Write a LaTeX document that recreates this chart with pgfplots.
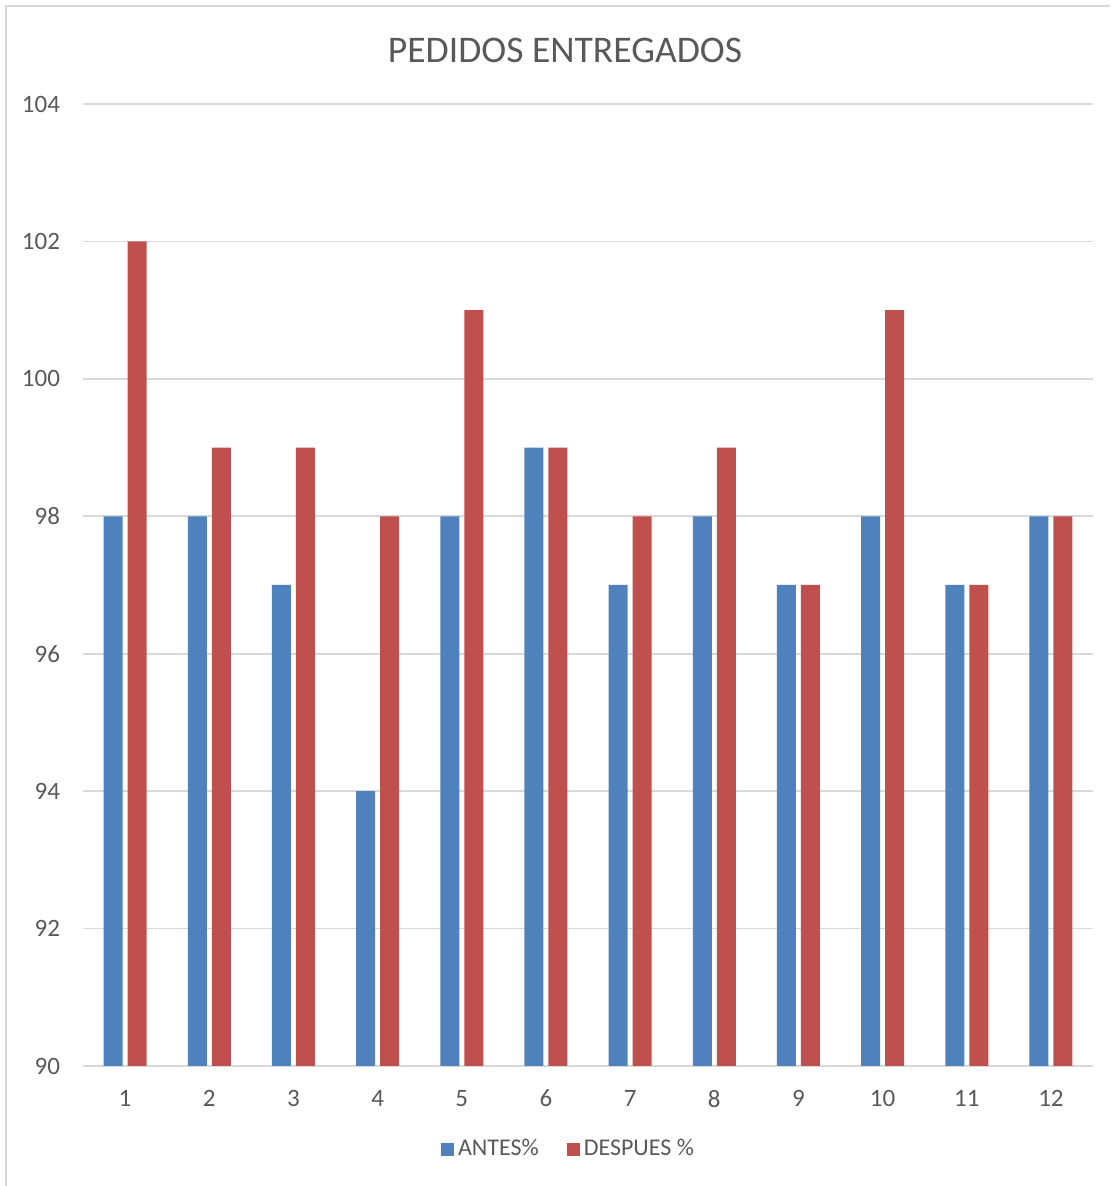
\documentclass[border=0pt]{standalone}
\usepackage{pgfplots}
\pgfplotsset{compat=1.18}
\usepackage{fontspec}
\setmainfont{Carlito}
\definecolor{antes}{HTML}{4F81BD}
\definecolor{despues}{HTML}{C0504D}
\definecolor{txtgray}{HTML}{595959}
\definecolor{gridgray}{HTML}{D9D9D9}
\begin{document}
\begin{tikzpicture}
% chart frame
\path[use as bounding box] (0,0) rectangle (555pt,593pt);
\draw[gridgray, line width=1pt] (3pt,0) -- (3pt,590pt) -- (555pt,590pt);
\node[txtgray, font=\fontsize{18.8}{22}\selectfont] at (282.5pt,568pt) {PEDIDOS ENTREGADOS};
\begin{axis}[
  at={(41.5pt,60pt)}, anchor=south west,
  scale only axis, width=505pt, height=481pt,
  ybar=2.5pt, bar width=9.5pt,
  xmin=0.5, xmax=12.5, ymin=90, ymax=104,
  xtick={1,...,12}, ytick={90,92,...,104},
  axis x line=bottom, axis y line=left,
  x axis line style={gridgray, line width=1pt, -},
  y axis line style={draw=none, -},
  ymajorgrids, grid style={gridgray, line width=0.8pt},
  major tick length=0pt,
  tick label style={txtgray, font=\fontsize{12.5}{14}\selectfont},
  /pgf/number format/assume math mode=true,
  yticklabel style={xshift=-8pt},
  xticklabel style={yshift=-8.5pt},
  legend style={at={(0.4817,-0.0865)}, anchor=center, draw=none,
    legend columns=2, font=\fontsize{12}{14}\selectfont, text=txtgray,
    /tikz/every even column/.style={column sep=12pt}},
  legend image code/.code={\fill[#1] (0pt,-3.25pt) rectangle (6.5pt,3.25pt);},
]
\addplot[fill=antes, draw=none] coordinates {
  (1,98) (2,98) (3,97) (4,94) (5,98) (6,99) (7,97) (8,98) (9,97) (10,98) (11,97) (12,98)};
\addplot[fill=despues, draw=none] coordinates {
  (1,102) (2,99) (3,99) (4,98) (5,101) (6,99) (7,98) (8,99) (9,97) (10,101) (11,97) (12,98)};
\legend{ANTES\%, DESPUES \%}
\end{axis}
\end{tikzpicture}
\end{document}
